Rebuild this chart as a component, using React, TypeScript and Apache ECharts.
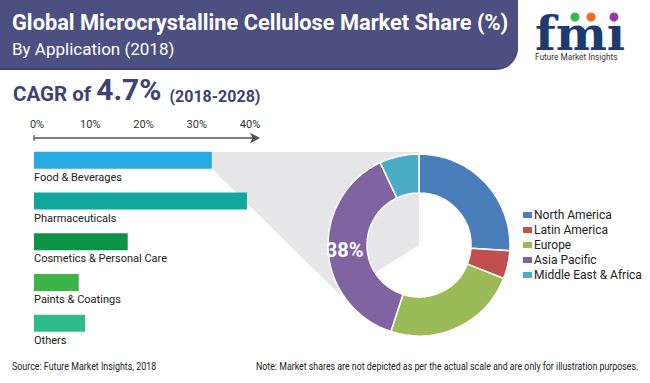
import React, { useEffect, useRef } from "react";
import * as echarts from "echarts";

const categories = ["Food & Beverages", "Pharmaceuticals", "Cosmetics & Personal Care", "Paints & Coatings", "Others"];
const barValues = [33.4, 40, 17.6, 8.4, 9.6];
const barColors = ["#27a9e1", "#10a89c", "#0b9444", "#3db449", "#2dbb8a"];
const axisTicks = [0, 10, 20, 30, 40];

const regions = ["North America", "Latin America", "Europe", "Asia Pacific", "Middle East & Africa"];
const regionShares = [26, 5, 24, 38, 7];
const regionColors = ["#4a7ebb", "#c0504d", "#9bbb59", "#8064a2", "#4bacc6"];

const FONT = "Roboto, 'Noto Sans', sans-serif";
const NAVY = "#3d4371";

export default function App() {
  const ref = useRef<HTMLDivElement>(null);
  useEffect(() => {
    if (!ref.current) return;
    const chart = echarts.init(ref.current, null, { renderer: "svg" });
    const option: any = {
      animation: false,
      backgroundColor: "#ffffff",
      textStyle: { fontFamily: FONT },
      grid: { left: 34, top: 140, width: 224, height: 203.5, containLabel: false },
      xAxis: {
        type: "value",
        position: "top",
        offset: 2,
        min: 0,
        max: 42.07,
        splitLine: { show: false },
        axisTick: { show: false },
        axisLine: {
          show: true,
          symbol: ["none", "arrow"],
          symbolSize: [8, 10],
          symbolOffset: [0, 2],
          lineStyle: { color: "#555", width: 1.5 },
        },
        axisLabel: {
          customValues: axisTicks,
          formatter: "{value}%",
          fontSize: 11,
          color: "#333",
          margin: 8,
          padding: [0, 0, 0, 6],
          fontFamily: FONT,
        },
      },
      yAxis: {
        type: "category",
        inverse: true,
        data: categories,
        show: false,
      },
      legend: {
        orient: "vertical",
        left: 521,
        top: 208,
        padding: 0,
        itemWidth: 11,
        itemHeight: 8,
        itemGap: 1,
        icon: "rect",
        data: regions,
        textStyle: { fontSize: 12, color: "#222", lineHeight: 14, fontFamily: FONT, padding: [0, 0, 0, -4] },
      },
      graphic: [
        {
          type: "polygon",
          z: 0,
          silent: true,
          shape: { points: [[212, 152], [419, 152], [419, 245], [340, 295], [212, 169]] },
          style: { fill: "#e6e6e8" },
        },
        {
          type: "rect",
          z: 1,
          shape: { x: -20, y: -20, width: 538, height: 90, r: [0, 0, 22, 0] },
          style: { fill: "#3f446f" },
        },
        {
          type: "rect",
          z: 1,
          shape: { x: -20, y: -20, width: 538, height: 88, r: [0, 0, 21, 0] },
          style: { fill: "#4b5080" },
        },
        {
          type: "text",
          z: 2,
          left: 12,
          top: 11,
          style: { text: "Global Microcrystalline Cellulose Market Share (%)", fill: "#ffffff", font: `bold 21.8px ${FONT}` },
        },
        {
          type: "text",
          z: 2,
          left: 12,
          top: 40,
          style: { text: "By Application (2018)", fill: "#ffffff", font: `17px ${FONT}` },
        },
        {
          type: "text",
          z: 2,
          left: 13,
          top: 74,
          style: {
            text: "{a|CAGR of }{b|4.7%}{c|  (2018-2028)}",
            rich: {
              a: { fontSize: 20.5, fontWeight: "bold", fill: NAVY, fontFamily: FONT, verticalAlign: "bottom" },
              b: { fontSize: 30, fontWeight: "bold", fill: NAVY, fontFamily: FONT, verticalAlign: "bottom" },
              c: { fontSize: 16, fontWeight: "bold", fill: NAVY, fontFamily: FONT, verticalAlign: "bottom" },
            },
          },
        },
        {
          type: "text",
          z: 2,
          x: 535,
          y: 57,
          scaleX: 1.05,
          style: { text: "fm\u0131", fill: "#1f3b6e", font: `bold 46px 'DejaVu Serif', serif`, verticalAlign: "bottom" },
        },
        { type: "circle", z: 3, shape: { cx: 575, cy: 17, r: 4.5 }, style: { fill: "#3cb54a" } },
        { type: "circle", z: 3, shape: { cx: 591, cy: 17, r: 4.5 }, style: { fill: "#f26b2b" } },
        { type: "circle", z: 3, shape: { cx: 614, cy: 17, r: 4.5 }, style: { fill: "#8e3fa0" } },
        {
          type: "text",
          z: 2,
          x: 535,
          y: 52,
          scaleX: 0.92,
          style: { text: "Future Market Insights", fill: "#333", font: `9px ${FONT}` },
        },
        {
          type: "line",
          z: 2,
          shape: { x1: 34, y1: 135, x2: 34, y2: 141 },
          style: { stroke: "#555", lineWidth: 1.2 },
        },
        {
          type: "text",
          z: 2,
          x: 12,
          y: 361,
          scaleX: 0.845,
          style: { text: "Source: Future Market Insights, 2018", fill: "#222", font: `10.5px ${FONT}` },
        },
        {
          type: "text",
          z: 2,
          x: 256,
          y: 361,
          scaleX: 0.84,
          style: {
            text: "Note: Market shares are not depicted as per the actual scale and are only for illustration purposes.",
            fill: "#222",
            font: `10.5px ${FONT}`,
          },
        },
      ],
      series: [
        {
          type: "bar",
          z: 3,
          barWidth: 17,
          data: barValues.map((v, i) => ({ value: v, itemStyle: { color: barColors[i] } })),
          label: {
            show: true,
            position: [0, 20],
            formatter: (p: any) => p.name,
            fontSize: 11,
            color: "#222",
            fontFamily: FONT,
          },
        },
        {
          type: "pie",
          z: 3,
          center: [419, 245],
          radius: [52, 91],
          startAngle: 90,
          clockwise: true,
          itemStyle: { borderColor: "#ffffff", borderWidth: 1.5 },
          data: regions.map((r, i) => ({
            name: r,
            value: regionShares[i],
            itemStyle: { color: regionColors[i] },
            label:
              r === "Asia Pacific"
                ? { show: true, position: "inside", formatter: "{c}%", color: "#fff", fontSize: 20, fontWeight: "bold", fontFamily: FONT }
                : { show: false },
          })),
          labelLine: { show: false },
          emphasis: { disabled: true },
        },
      ],
    };
    chart.setOption(option);
    return () => chart.dispose();
  }, []);
  return <div ref={ref} style={{ width: 650, height: 383, position: "absolute", left: 0, top: 0 }} />;
}
